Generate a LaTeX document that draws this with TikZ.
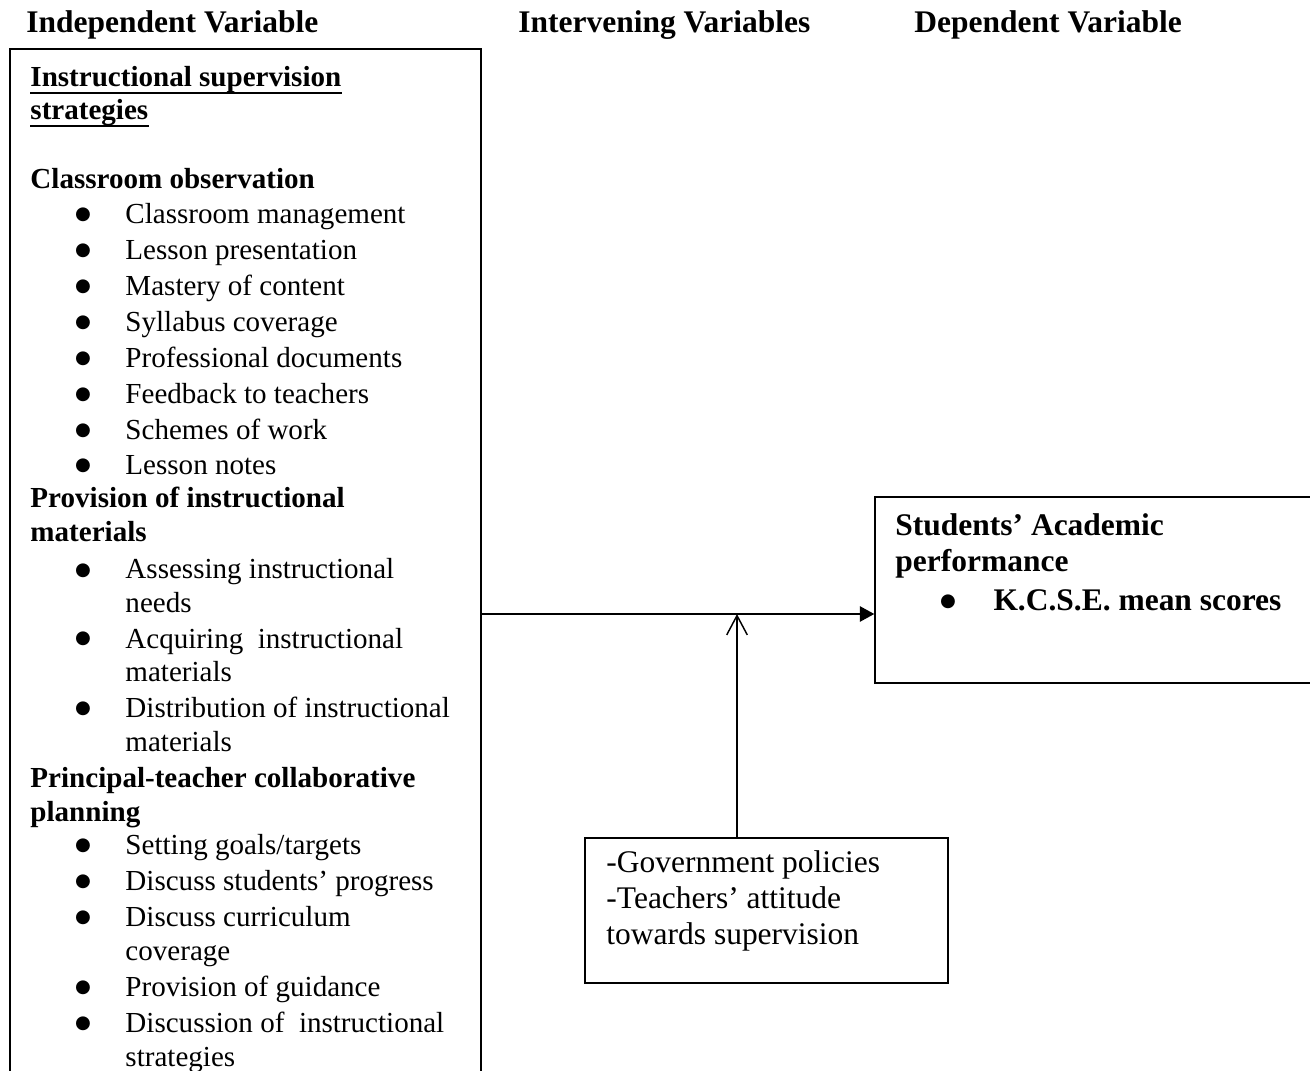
\documentclass[tikz,border=0pt]{standalone}
\usepackage{fontspec}
\setmainfont{Liberation Serif}
\newfontfamily\dotfont{DejaVu Sans}
\usetikzlibrary{arrows.meta,positioning}
\newcommand{\px}{0.413pt}
\tikzset{>=stealth,
	frame/.style={% plain boxes around the variables
		draw, rectangle,
		line width=0.6pt,
		inner sep=0pt
	},
	txt/.style={anchor=base west, inner sep=0pt, font=\fontsize{12}{14}\selectfont},
	txtbf/.style={txt, font=\fontsize{12}{14}\selectfont\bfseries},
	big/.style={anchor=base west, inner sep=0pt, font=\fontsize{13}{15}\selectfont},
	bigbf/.style={big, font=\fontsize{13}{15}\selectfont\bfseries},
	dot/.style={anchor=base, inner sep=0pt, font=\dotfont\fontsize{7.5}{8}\selectfont}
}

\begin{document}
\begin{tikzpicture}[x=\px, y=-\px]
	\useasboundingbox (0,0) rectangle (1310,1071);
	% headings
	\node [bigbf] (h1) at (26,33) {Independent Variable};
	\node [bigbf] (h2) at (518,33) {Intervening Variables};
	\node [bigbf] (h3) at (914,33) {Dependent Variable};
	% boxes
	\node [frame, line width=0.9pt, minimum width=471*\px, minimum height=1051*\px] (indep) at (245.5,574.5) {};
	\node [frame, minimum width=455*\px, minimum height=186*\px] (dep) at (1102.5,590) {};
	\node [frame, minimum width=363*\px, minimum height=145*\px] (interv) at (766.5,910.5) {};
	% independent variable
	\node [txtbf] (ist1) at (30,87) {Instructional supervision};
	\node [txtbf] (ist2) at (30,120) {strategies};
	\draw [line width=0.8pt] ([yshift=-2.4pt]ist1.base west) -- ([yshift=-2.4pt]ist1.base east);
	\draw [line width=0.8pt] ([yshift=-2.4pt]ist2.base west) -- ([yshift=-2.4pt]ist2.base east);
	\node [txtbf] (cls) at (30,189) {Classroom observation};
	\node [txtbf] (pro1) at (30,508) {Provision of instructional};
	\node [txtbf] (pro2) at (30,542) {materials};
	\node [txtbf] (pri1) at (30,787) {Principal-teacher collaborative};
	\node [txtbf] (pri2) at (30,821) {planning};
	\foreach \y/\t in {224/{Classroom management}, 260/{Lesson presentation},
		296/{Mastery of content}, 332/{Syllabus coverage},
		368/{Professional documents}, 404/{Feedback to teachers},
		440/{Schemes of work}, 475/{Lesson notes},
		579/{Assessing instructional}, 612/{needs},
		648/{Acquiring~ instructional}, 682/{materials},
		717/{Distribution of instructional}, 751/{materials},
		854/{Setting goals/targets}, 890/{Discuss students’ progress},
		926/{Discuss curriculum}, 960/{coverage},
		996/{Provision of guidance}, 1032/{Discussion of~ instructional},
		1066/{strategies}}
		\node [txt] (it\y) at (125,\y) {\t};
	\foreach \y in {224,260,296,332,368,404,440,475,579,648,717,854,890,926,996,1032}
		\node [dot] (bu\y) at (83,\y-4) {●};
	% dependent variable
	\node [bigbf] (dep1) at (895,536) {Students’ Academic};
	\node [bigbf] (dep2) at (895,572) {performance};
	\node [dot] (depb) at (948,606) {●};
	\node [bigbf] (dep3) at (993,610) {K.C.S.E. mean scores};
	% intervening variables
	\node [big] (iv1) at (606,872) {-Government policies};
	\node [big] (iv2) at (606,908) {-Teachers’ attitude};
	\node [big] (iv3) at (606,944) {towards supervision};
	% connectors
	\coordinate (joint) at (737,614);
	\draw [line width=0.6pt, -{Triangle[length=6pt,width=6.4pt]}] (indep.east |- joint) -- (dep.west |- joint);
	\draw [line width=0.6pt, -{Straight Barb[length=8pt,width=8.5pt]}] (interv.north -| joint) -- (joint);
\end{tikzpicture}
\end{document}
